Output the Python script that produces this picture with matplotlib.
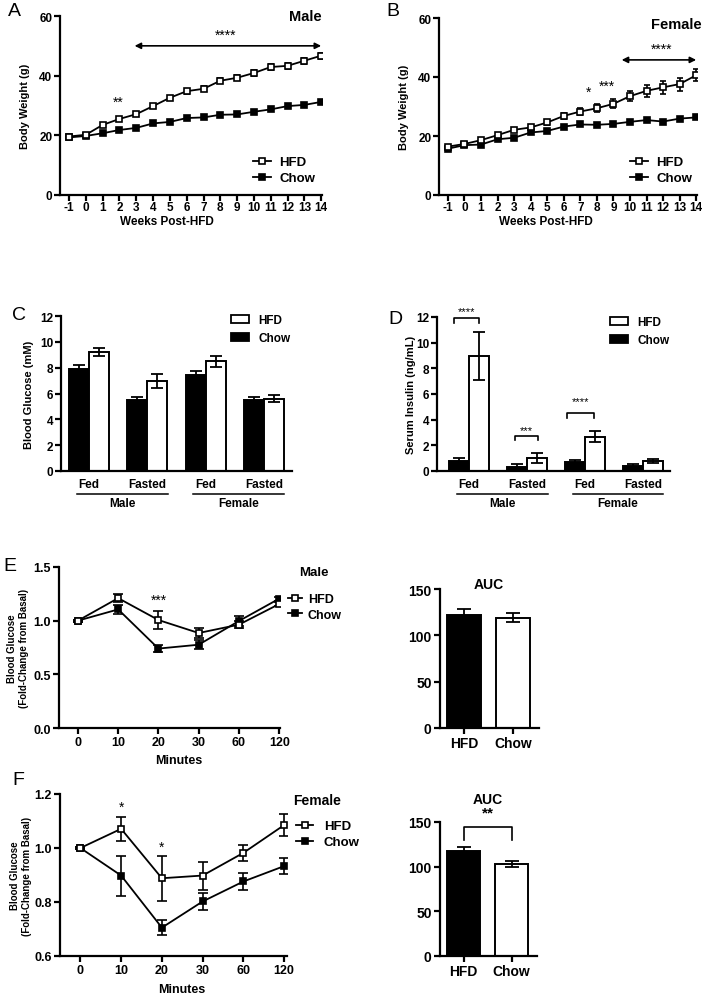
import numpy as np
import matplotlib.pyplot as plt
from matplotlib.patches import Patch

plt.rcParams['font.family'] = ['Liberation Sans', 'DejaVu Sans']
plt.rcParams['font.weight'] = 'bold'
plt.rcParams['axes.labelweight'] = 'bold'
plt.rcParams['axes.unicode_minus'] = False

W, H = 705, 995

# ---- A / B: body weight ----
weeks = np.arange(-1, 15)
male_hfd = [19.6, 20.2, 23.5, 25.5, 27.1, 29.8, 32.6, 34.8, 35.6, 38.3, 39.3, 40.9, 42.9, 43.3, 45.0, 46.7]
male_hfd_err = [0.5, 0.5, 0.6, 0.6, 0.7, 0.7, 0.7, 0.8, 0.8, 0.8, 0.9, 0.9, 0.9, 1.0, 1.0, 1.0]
male_chow = [19.3, 19.8, 20.7, 21.8, 22.5, 24.0, 24.5, 25.8, 26.0, 26.9, 27.0, 27.9, 28.7, 29.8, 30.2, 31.2]
male_chow_err = [0.4, 0.4, 0.4, 0.4, 0.4, 0.5, 0.5, 0.5, 0.5, 0.5, 0.5, 0.5, 0.6, 0.6, 0.6, 0.6]
female_hfd = [16.4, 17.3, 18.6, 20.3, 22.1, 22.9, 24.6, 26.8, 28.3, 29.4, 30.9, 33.5, 35.3, 36.5, 37.6, 40.6]
female_hfd_err = [0.5, 0.5, 0.6, 0.6, 0.7, 0.7, 0.8, 0.9, 1.1, 1.3, 1.5, 1.7, 2.0, 2.2, 2.2, 2.0]
female_chow = [15.7, 16.9, 17.1, 18.9, 19.4, 21.2, 21.7, 23.2, 23.9, 23.8, 24.1, 24.8, 25.4, 24.9, 25.9, 26.3]
female_chow_err = [0.4, 0.4, 0.4, 0.5, 0.5, 0.5, 0.5, 0.5, 0.5, 0.5, 0.5, 0.6, 0.6, 0.6, 0.6, 0.6]

# ---- C / D: glucose and insulin ----
conditions = ['Fed', 'Fasted', 'Fed', 'Fasted']
glucose_chow = [7.9, 5.52, 7.46, 5.5]
glucose_chow_err = [0.28, 0.18, 0.3, 0.2]
glucose_hfd = [9.2, 6.94, 8.49, 5.6]
glucose_hfd_err = [0.3, 0.55, 0.4, 0.28]
insulin_chow = [0.78, 0.31, 0.73, 0.42]
insulin_chow_err = [0.26, 0.2, 0.13, 0.16]
insulin_hfd = [8.96, 1.04, 2.68, 0.8]
insulin_hfd_err = [1.88, 0.39, 0.42, 0.15]

# ---- E / F: insulin tolerance ----
minutes = ['0', '10', '20', '30', '60', '120']
male_itt_hfd = [1.0, 1.21, 1.006, 0.885, 0.963, 1.155]
male_itt_hfd_err = [0.01, 0.04, 0.08, 0.05, 0.03, 0.02]
male_itt_chow = [1.0, 1.105, 0.74, 0.776, 0.997, 1.205]
male_itt_chow_err = [0.01, 0.04, 0.035, 0.04, 0.05, 0.02]
female_itt_hfd = [1.0, 1.071, 0.888, 0.898, 0.982, 1.085]
female_itt_hfd_err = [0.005, 0.044, 0.083, 0.052, 0.03, 0.042]
female_itt_chow = [1.0, 0.898, 0.705, 0.802, 0.876, 0.933]
female_itt_chow_err = [0.005, 0.074, 0.027, 0.033, 0.03, 0.03]

auc_groups = ['HFD', 'Chow']
male_auc = [122.4, 119.1]
male_auc_err = [6, 5]
female_auc = [118, 103]
female_auc_err = [4.5, 3.5]

fig = plt.figure(figsize=(W / 100, H / 100), dpi=100)


def make_ax(l, t, r, b):
    ax = fig.add_axes([l / W, 1 - b / H, (r - l) / W, (b - t) / H])
    ax.spines[['top', 'right']].set_visible(False)
    ax.spines[['left', 'bottom']].set_linewidth(1.6)
    ax.tick_params(width=1.6, length=4, direction='out', pad=1.5)
    ax._box = (l, t, r, b)
    return ax


def ylabel_at(ax, text, xpx, size=8):
    # xpx = right edge of the rotated label, in figure pixels
    l, t, r, b = ax._box
    ax.set_ylabel(text, fontsize=size)
    ax.yaxis.set_label_coords((xpx - l) / (r - l), 0.5)


def xlabel_at(ax, text, xpx, ypx, size=9):
    # ypx = top of the label, in figure pixels
    l, t, r, b = ax._box
    ax.set_xlabel(text, fontsize=size)
    ax.xaxis.set_label_coords((xpx - l) / (r - l), (b - ypx) / (b - t))


def line_panel(ax, x, hfd, hfd_err, chow, chow_err, capsize, ms):
    ax.errorbar(x, chow, yerr=chow_err, fmt='none', ecolor='black', elinewidth=1.2,
                capsize=capsize, capthick=1.2, zorder=2)
    ax.errorbar(x, hfd, yerr=hfd_err, fmt='none', ecolor='black', elinewidth=1.2,
                capsize=capsize, capthick=1.2, zorder=3)
    l2, = ax.plot(x, chow, '-s', color='black', mfc='black', mec='black', ms=ms, mew=1.2,
                  lw=1.3, label='Chow', zorder=4)
    l1, = ax.plot(x, hfd, '-s', color='black', mfc='white', mec='black', ms=ms, mew=1.2,
                  lw=1.3, label='HFD', zorder=5)
    return [l1, l2]


def fig_legend(ax, handles, lpx, tpx, size, hl, htp):
    ax.legend(handles=handles, loc='upper left', bbox_to_anchor=(lpx / W, 1 - tpx / H),
              bbox_transform=fig.transFigure, frameon=False, borderpad=0,
              borderaxespad=0, handlelength=hl, handletextpad=htp, labelspacing=0.3,
              prop={'weight': 'bold', 'size': size})


# ================= A =================
axA = make_ax(60, 17, 322, 196)
h = line_panel(axA, weeks, male_hfd, male_hfd_err, male_chow, male_chow_err, 2.4, 4.8)
axA.set_xlim(-1.54, 14.05)
axA.set_ylim(0, 60)
axA.set_xticks(weeks)
axA.set_yticks([0, 20, 40, 60])
axA.tick_params(labelsize=8.5)
axA.tick_params(axis='x', pad=0.5)
ylabel_at(axA, 'Body Weight (g)', 30)
xlabel_at(axA, 'Weeks Post-HFD', 167, 216, size=8.5)
fig_legend(axA, h, 253, 157, 9.5, 1.4, 0.6)
axA.text(14, 60, 'Male', ha='right', va='center', fontsize=10.5)
axA.annotate('', xy=(14, 50), xytext=(2.9, 50),
             arrowprops=dict(arrowstyle='<|-|>', color='black', lw=1.2, mutation_scale=9,
                             shrinkA=0, shrinkB=0))
axA.text(8.3, 51.5, '****', ha='center', va='bottom', fontsize=10, fontweight='normal')
axA.text(1.9, 29, '**', ha='center', va='bottom', fontsize=10, fontweight='normal')

# ================= B =================
axB = make_ax(439, 19, 697, 196)
h = line_panel(axB, weeks, female_hfd, female_hfd_err, female_chow, female_chow_err, 2.4, 4.8)
axB.set_xlim(-1.54, 14.05)
axB.set_ylim(0, 60)
axB.set_xticks(weeks)
axB.set_yticks([0, 20, 40, 60])
axB.tick_params(labelsize=8.5)
axB.tick_params(axis='x', pad=0.5)
ylabel_at(axB, 'Body Weight (g)', 409)
xlabel_at(axB, 'Weeks Post-HFD', 546, 216, size=8.5)
fig_legend(axB, h, 630, 157, 9.5, 1.4, 0.6)
axB.text(14.3, 58, 'Female', ha='right', va='center', fontsize=10.5)
axB.annotate('', xy=(14, 45.8), xytext=(9.5, 45.8),
             arrowprops=dict(arrowstyle='<|-|>', color='black', lw=1.2, mutation_scale=9,
                             shrinkA=0, shrinkB=0))
axB.text(11.9, 47.3, '****', ha='center', va='bottom', fontsize=10, fontweight='normal')
axB.text(7.5, 32.5, '*', ha='center', va='bottom', fontsize=10, fontweight='normal')
axB.text(8.6, 34.5, '***', ha='center', va='bottom', fontsize=10, fontweight='normal')


# ================= C / D =================
def bar_panel(ax, chow, chow_err, hfd, hfd_err):
    x = np.arange(len(conditions))
    w = 0.343
    ax.bar(x - w / 2, chow, w, color='black', edgecolor='black', lw=1.4, zorder=2)
    ax.bar(x + w / 2, hfd, w, color='white', edgecolor='black', lw=1.4, zorder=2)
    ax.errorbar(x - w / 2, chow, yerr=chow_err, fmt='none', ecolor='black', elinewidth=1.3,
                capsize=4.5, capthick=1.3, zorder=3)
    ax.errorbar(x + w / 2, hfd, yerr=hfd_err, fmt='none', ecolor='black', elinewidth=1.3,
                capsize=4.5, capthick=1.3, zorder=3)
    ax.set_xticks(x)
    ax.set_xticklabels(conditions)
    ax.tick_params(axis='x', length=0, pad=5, labelsize=8.5)
    ax.tick_params(axis='y', labelsize=8.5)
    ax.set_ylim(0, 12)
    ax.set_yticks([0, 2, 4, 6, 8, 10, 12])
    l, t, r, b = ax._box
    yline = -(495 - b) / (b - t)
    ytext = -(504 - b) / (b - t)
    trans = ax.get_xaxis_transform()
    for x0, x1, lab in [(-0.2, 1.36, 'Male'), (1.79, 3.35, 'Female')]:
        ax.plot([x0, x1], [yline, yline], color='black', lw=1.1, transform=trans, clip_on=False)
        ax.text((x0 + x1) / 2, ytext, lab, ha='center', va='center', fontsize=8.5,
                transform=trans)


def patch_legend(ax, lpx, tpx):
    ax.legend(handles=[Patch(facecolor='white', edgecolor='black', lw=1.3, label='HFD'),
                       Patch(facecolor='black', edgecolor='black', lw=1.3, label='Chow')],
              loc='upper left', bbox_to_anchor=(lpx / W, 1 - tpx / H),
              bbox_transform=fig.transFigure, frameon=False, borderpad=0, borderaxespad=0,
              handlelength=1.5, handleheight=0.7, handletextpad=0.8, labelspacing=0.5,
              prop={'weight': 'bold', 'size': 8.5})


axC = make_ax(61, 317, 292, 472)
bar_panel(axC, glucose_chow, glucose_chow_err, glucose_hfd, glucose_hfd_err)
axC.set_xlim(-0.48, 3.48)
ylabel_at(axC, 'Blood Glucose (mM)', 34)
patch_legend(axC, 231, 315)

axD = make_ax(437, 318, 670, 472)
bar_panel(axD, insulin_chow, insulin_chow_err, insulin_hfd, insulin_hfd_err)
axD.set_xlim(-0.55, 3.47)
ylabel_at(axD, 'Serum Insulin (ng/mL)', 416)
patch_legend(axD, 610, 317)


def bracket(ax, x0, x1, y, leg, stars, sy, size):
    ax.plot([x0, x0, x1, x1], [y - leg, y, y, y - leg], color='black', lw=1.2, clip_on=False)
    if stars:
        ax.text((x0 + x1) / 2, sy, stars, ha='center', va='center', fontsize=size,
                fontweight='normal')


bracket(axD, -0.26, 0.17, 11.9, 0.35, '****', 12.5, 8)
bracket(axD, 0.79, 1.19, 2.73, 0.3, '***', 3.2, 8)
bracket(axD, 1.69, 2.16, 4.5, 0.35, '****', 5.45, 8)

# ================= E =================
xm = np.arange(len(minutes))
axE = make_ax(59, 568, 280, 729)
h = line_panel(axE, xm, male_itt_hfd, male_itt_hfd_err, male_itt_chow, male_itt_chow_err, 3.4, 5)
axE.set_xlim(-0.47, 5.02)
axE.set_ylim(0, 1.5)
axE.set_xticks(xm)
axE.set_xticklabels(minutes)
axE.set_yticks([0, 0.5, 1.0, 1.5])
axE.tick_params(labelsize=9, length=4.5)
ylabel_at(axE, 'Blood Glucose\n(Fold-Change from Basal)', 29, size=7)
xlabel_at(axE, 'Minutes', 179, 755)
fig_legend(axE, h, 288, 594, 9, 1.1, 0.5)
fig.text(299 / W, 1 - 573 / H, 'Male', ha='left', va='center', fontsize=9.5)
axE.text(2, 1.13, '***', ha='center', va='bottom', fontsize=10, fontweight='normal')

# ================= F =================
axF = make_ax(60, 795, 287, 957)
h = line_panel(axF, xm, female_itt_hfd, female_itt_hfd_err, female_itt_chow, female_itt_chow_err,
               3.8, 5)
axF.set_xlim(-0.5, 5.07)
axF.set_ylim(0.6, 1.2)
axF.set_xticks(xm)
axF.set_xticklabels(minutes)
axF.set_yticks([0.6, 0.8, 1.0, 1.2])
axF.tick_params(labelsize=9, length=4.5)
ylabel_at(axF, 'Blood Glucose\n(Fold-Change from Basal)', 32, size=7)
xlabel_at(axF, 'Minutes', 182, 984)
fig_legend(axF, h, 296, 821, 9.5, 1.3, 0.8)
fig.text(293 / W, 1 - 801 / H, 'Female', ha='left', va='center', fontsize=10)
axF.text(1, 1.125, '*', ha='center', va='bottom', fontsize=10, fontweight='normal')
axF.text(2, 0.978, '*', ha='center', va='bottom', fontsize=10, fontweight='normal')


# ================= AUC =================
def auc_panel(ax, vals, errs):
    x = np.arange(len(auc_groups))
    ax.bar(x, vals, 0.7, color=['black', 'white'], edgecolor='black', lw=1.4, zorder=2)
    ax.errorbar(x, vals, yerr=errs, fmt='none', ecolor='black', elinewidth=1.3,
                capsize=5, capthick=1.3, zorder=3)
    ax.set_xticks(x)
    ax.set_xticklabels(auc_groups)
    ax.set_xlim(-0.49, 1.53)
    ax.set_ylim(0, 150)
    ax.set_yticks([0, 50, 100, 150])
    ax.tick_params(labelsize=10, length=4.5)


axG = make_ax(440, 590, 539, 729)
auc_panel(axG, male_auc, male_auc_err)
axG.text(0.5, 155.5, 'AUC', ha='center', va='center', fontsize=10)

axH = make_ax(440, 823, 537, 957)
auc_panel(axH, female_auc, female_auc_err)
bracket(axH, 0, 1, 144.7, 15, '', 0, 10)
axH.text(0.5, 161, '**', ha='center', va='center', fontsize=11)
axH.text(0.5, 176, 'AUC', ha='center', va='center', fontsize=10)

# panel letters
for lab, xp, yp in [('A', 8, 3), ('B', 386, 3), ('C', 12, 307), ('D', 388, 311),
                    ('E', 3, 558), ('F', 12, 772)]:
    fig.text(xp / W, 1 - yp / H, lab, ha='left', va='top', fontsize=14, fontweight='normal')

fig.savefig('out.png', dpi=100)
